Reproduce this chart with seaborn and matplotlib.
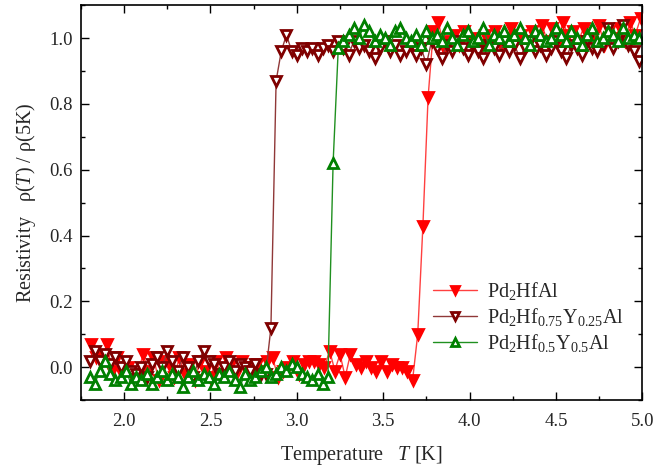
import matplotlib
matplotlib.use("Agg")
import matplotlib.pyplot as plt
import seaborn as sns
import pandas as pd
from matplotlib.ticker import MultipleLocator


# Pd2HfAl
hf_temps = [1.81, 1.84, 1.87, 1.90, 1.93, 1.96, 1.99, 2.02, 2.05, 2.08, 2.11, 2.14, 2.17, 2.20, 2.23,
            2.26, 2.29, 2.32, 2.35, 2.38, 2.41, 2.44, 2.47, 2.50, 2.53, 2.56, 2.59, 2.62, 2.65, 2.68,
            2.71, 2.74, 2.77, 2.80, 2.83, 2.86, 2.89, 2.92, 2.95, 2.98, 3.01, 3.04, 3.07, 3.10, 3.13,
            3.16, 3.19, 3.22, 3.25, 3.28, 3.31, 3.34, 3.37, 3.40, 3.43, 3.46, 3.49, 3.52, 3.55, 3.58,
            3.61, 3.64, 3.67, 3.70, 3.73, 3.76, 3.79, 3.82, 3.85, 3.88, 3.91, 3.94, 3.97, 4.00, 4.03,
            4.06, 4.09, 4.12, 4.15, 4.18, 4.21, 4.24, 4.27, 4.30, 4.33, 4.36, 4.39, 4.42, 4.45, 4.48,
            4.51, 4.54, 4.57, 4.60, 4.63, 4.66, 4.69, 4.72, 4.75, 4.78, 4.81, 4.84, 4.87, 4.90, 4.93,
            4.96, 4.99]
hf_rho = [0.07, 0.03, 0.02, 0.07, -0.01, 0.03, -0.02, 0.00, -0.03, -0.02, 0.04, -0.01, 0.03, -0.04, 0.02,
          0.01, -0.03, 0.03, -0.02, 0.01, -0.04, 0.02, -0.01, -0.03, 0.02, -0.02, 0.03, 0.01, -0.02, 0.02,
          0.00, -0.03, 0.01, -0.01, 0.02, 0.03, -0.03, -0.01, 0.00, 0.02, -0.02, 0.01, 0.02, 0.02, 0.01,
          0.00, 0.05, -0.01, 0.04, -0.03, 0.04, 0.01, 0.00, 0.02, 0.00, -0.01, 0.02, -0.01, 0.01, 0.00,
          0.00, -0.01, -0.04, 0.10, 0.43, 0.82, 1.02, 1.05, 0.97, 0.99, 1.01, 0.98, 1.02, 0.99, 1.00,
          0.97, 1.01, 0.99, 1.02, 0.98, 1.00, 1.03, 0.99, 1.01, 0.98, 1.02, 1.00, 1.04, 0.99, 1.03,
          0.98, 1.05, 1.01, 1.02, 0.99, 1.03, 1.00, 1.01, 1.04, 0.98, 1.02, 1.00, 1.03, 0.99, 1.05,
          1.01, 1.06]

# Pd2Hf0.75Y0.25Al
y25_temps = [1.80, 1.83, 1.86, 1.89, 1.92, 1.95, 1.98, 2.01, 2.04, 2.07, 2.10, 2.13, 2.16, 2.19, 2.22,
             2.25, 2.28, 2.31, 2.34, 2.37, 2.40, 2.43, 2.46, 2.49, 2.52, 2.55, 2.58, 2.61, 2.64, 2.67,
             2.70, 2.73, 2.76, 2.79, 2.82, 2.85, 2.88, 2.91, 2.94, 2.97, 3.00, 3.03, 3.06, 3.09, 3.12,
             3.15, 3.18, 3.21, 3.24, 3.27, 3.30, 3.33, 3.36, 3.39, 3.42, 3.45, 3.48, 3.51, 3.54, 3.57,
             3.60, 3.63, 3.66, 3.69, 3.72, 3.75, 3.78, 3.81, 3.84, 3.87, 3.90, 3.93, 3.96, 3.99, 4.02,
             4.05, 4.08, 4.11, 4.14, 4.17, 4.20, 4.23, 4.26, 4.29, 4.32, 4.35, 4.38, 4.41, 4.44, 4.47,
             4.50, 4.53, 4.56, 4.59, 4.62, 4.65, 4.68, 4.71, 4.74, 4.77, 4.80, 4.83, 4.86, 4.89, 4.92,
             4.95, 4.98]
y25_rho = [0.02, 0.05, 0.02, 0.04, 0.01, 0.03, 0.00, 0.02, -0.01, -0.02, 0.00, -0.03, 0.01, 0.03, 0.00,
           0.05, 0.02, -0.01, 0.03, 0.00, -0.03, 0.02, 0.05, 0.02, 0.01, -0.02, 0.00, 0.02, -0.01, 0.01,
           0.00, -0.01, 0.01, -0.02, -0.02, 0.12, 0.87, 0.96, 1.01, 0.96, 0.95, 0.97, 0.96, 0.97, 0.95,
           0.97, 0.98, 0.96, 0.99, 0.97, 0.95, 0.99, 0.97, 0.98, 0.96, 0.94, 0.97, 0.99, 0.96, 0.98,
           0.95, 0.96, 0.98, 0.95, 0.97, 0.92, 0.99, 0.97, 0.94, 0.98, 0.96, 0.99, 0.97, 0.95, 0.98,
           0.96, 0.94, 0.98, 0.97, 0.95, 0.99, 0.96, 0.98, 0.94, 0.97, 0.99, 0.96, 0.98, 0.95, 0.97,
           0.99, 0.96, 0.94, 0.98, 0.97, 0.95, 0.99, 0.97, 0.96, 0.98, 1.03, 0.97, 0.99, 1.04, 0.98,
           0.96, 0.93]

# Pd2Hf0.5Y0.5Al
y50_temps = [1.80, 1.83, 1.86, 1.89, 1.92, 1.95, 1.98, 2.01, 2.04, 2.07, 2.10, 2.13, 2.16, 2.19, 2.22,
             2.25, 2.28, 2.31, 2.34, 2.37, 2.40, 2.43, 2.46, 2.49, 2.52, 2.55, 2.58, 2.61, 2.64, 2.67,
             2.70, 2.73, 2.76, 2.79, 2.82, 2.85, 2.88, 2.91, 2.94, 2.97, 3.00, 3.03, 3.06, 3.09, 3.12,
             3.15, 3.18, 3.21, 3.24, 3.27, 3.30, 3.33, 3.36, 3.39, 3.42, 3.45, 3.48, 3.51, 3.54, 3.57,
             3.60, 3.63, 3.66, 3.69, 3.72, 3.75, 3.78, 3.81, 3.84, 3.87, 3.90, 3.93, 3.96, 3.99, 4.02,
             4.05, 4.08, 4.11, 4.14, 4.17, 4.20, 4.23, 4.26, 4.29, 4.32, 4.35, 4.38, 4.41, 4.44, 4.47,
             4.50, 4.53, 4.56, 4.59, 4.62, 4.65, 4.68, 4.71, 4.74, 4.77, 4.80, 4.83, 4.86, 4.89, 4.92,
             4.95, 4.98]
y50_rho = [-0.03, -0.05, -0.01, 0.02, -0.02, -0.04, -0.03, -0.01, -0.05, -0.03, -0.04, -0.02, -0.05, -0.03, -0.01,
           -0.04, -0.02, -0.03, -0.06, -0.03, -0.01, -0.04, -0.02, -0.03, -0.05, -0.02, -0.03, -0.01, -0.04, -0.06,
           -0.02, -0.04, -0.03, -0.01, 0.00, -0.03, -0.02, 0.00, -0.01, 0.01, 0.00, -0.02, -0.03, -0.04, -0.02,
           -0.05, -0.03, 0.62, 0.97, 0.99, 1.01, 1.03, 1.00, 1.04, 1.02, 0.99, 1.01, 1.00, 0.98, 1.02,
           1.03, 1.00, 0.99, 1.01, 0.98, 1.02, 1.00, 1.01, 0.99, 1.03, 1.00, 0.98, 1.01, 1.02, 0.99,
           1.00, 1.03, 0.98, 1.01, 1.00, 1.02, 0.99, 1.01, 1.03, 1.00, 0.98, 1.02, 1.01, 0.99, 1.00,
           1.03, 1.01, 0.99, 1.02, 1.00, 0.98, 1.01, 1.03, 0.99, 1.00, 1.02, 1.01, 0.99, 1.03, 1.00,
           1.01, 1.00]

labels = [r"Pd$_2$HfAl", r"Pd$_2$Hf$_{0.75}$Y$_{0.25}$Al", r"Pd$_2$Hf$_{0.5}$Y$_{0.5}$Al"]

sns.set_theme(style="ticks")
plt.rcParams["font.family"] = ["Liberation Serif", "DejaVu Serif"]
plt.rcParams["mathtext.fontset"] = "custom"
plt.rcParams["mathtext.rm"] = "Liberation Serif"
plt.rcParams["mathtext.it"] = "Liberation Serif:italic"
plt.rcParams["mathtext.default"] = "regular"

fig = plt.figure(figsize=(6.69, 4.68), dpi=100)
ax = fig.add_axes([0.121, 0.145, 0.839, 0.844])

series = [
    (hf_temps, hf_rho, "#ff0000", "v", "#ff0000", "#ff4040"),
    (y25_temps, y25_rho, "#800000", "v", "white", "#903838"),
    (y50_temps, y50_rho, "#008000", "^", "white", "#209020"),
]
for (t, r, col, mk, face, lcol), lab in zip(series, labels):
    df = pd.DataFrame({"T": t, "rho": r})
    sns.lineplot(data=df, x="T", y="rho", ax=ax, sort=False, estimator=None,
                 color=lcol, lw=1.0, marker=mk, markersize=6.5,
                 markerfacecolor=face, markeredgecolor=col, markeredgewidth=2.0,
                 label=lab)

ax.set_xlim(1.75, 5.0)
ax.set_ylim(-0.1, 1.1)
ax.xaxis.set_major_locator(MultipleLocator(0.5))
ax.xaxis.set_minor_locator(MultipleLocator(0.25))
ax.yaxis.set_major_locator(MultipleLocator(0.2))
ax.yaxis.set_minor_locator(MultipleLocator(0.1))
ax.tick_params(which="both", direction="in", top=True, right=True, labelsize=13.5,
               width=1.0, color="black")
ax.tick_params(which="major", length=6)
ax.tick_params(which="minor", length=3)
ax.tick_params(axis="x", which="major", pad=9)
ax.tick_params(axis="y", which="major", pad=6)
for s in ax.spines.values():
    s.set_linewidth(1.2)
    s.set_color("black")

ax.set_xlabel(r"Temperature   $\mathit{T}$ [K]", fontsize=14.5, labelpad=10)
ax.set_ylabel(r"Resistivity   ρ($\mathit{T}$) / ρ(5K)", fontsize=14.5, labelpad=8)

ax.legend(loc="lower right", bbox_to_anchor=(1.0, 0.07), frameon=False, fontsize=14.5,
          handlelength=2.2, handletextpad=0.5, labelspacing=0.2, numpoints=1,
          markerscale=0.8)

fig.savefig("out.png", dpi=100)
